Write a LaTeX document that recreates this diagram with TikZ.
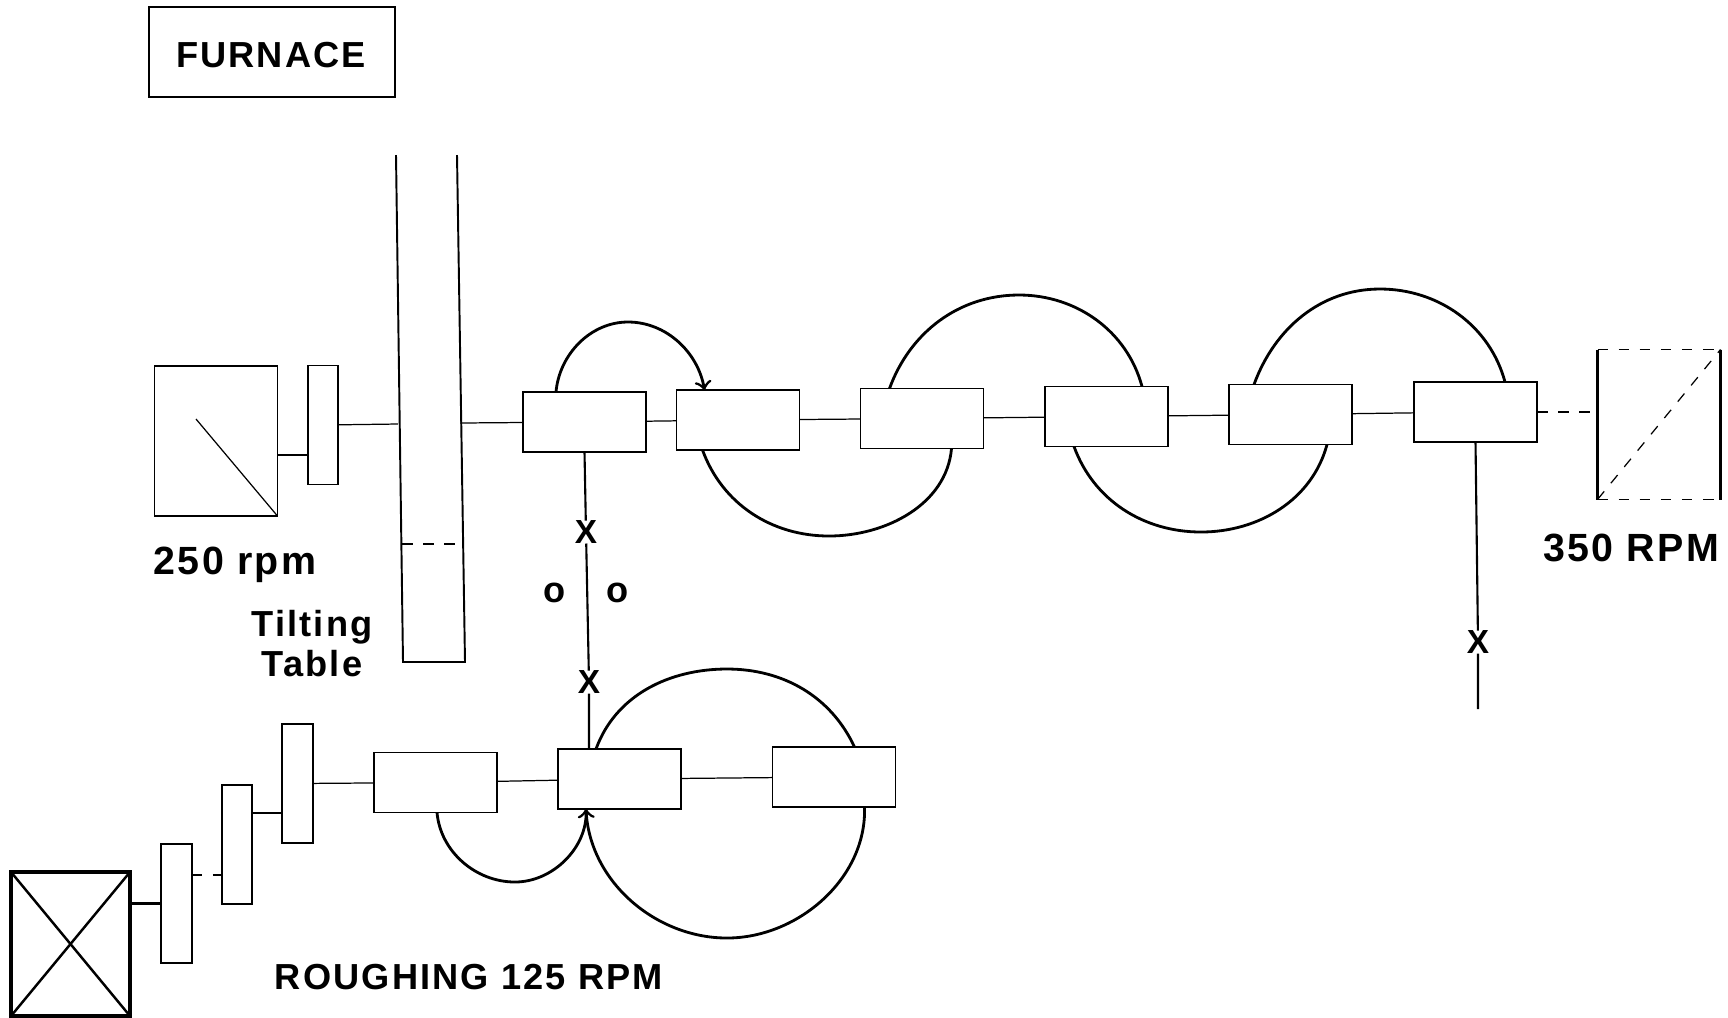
\documentclass[tikz,border=0pt]{standalone}
\usepackage{fontspec}
\setmainfont{Liberation Sans}[LetterSpace=6]
\begin{document}
\begin{tikzpicture}[
        x=0.1mm, y=-0.1mm,
        every node/.style={inner sep=0pt, outer sep=0pt},
        roll/.style={draw, line width=0.45pt, minimum width=12.3mm, minimum height=6mm},
        gear/.style={draw, line width=0.45pt, minimum width=3.05mm, minimum height=11.9mm},
        motor/.style={draw, line width=0.55pt, minimum width=12.3mm, minimum height=15mm},
        shaft/.style={line width=0.35pt},
        strand/.style={line width=0.8pt, looseness=0.96},
        guide/.style={line width=0.6pt},
        tag/.style={font=\bfseries\fontsize{10.3}{11.4}\selectfont, align=center},
        bigtag/.style={font=\bfseries\fontsize{11.2}{12}\selectfont},
        cross/.style={font=\bfseries\fontsize{9.5}{10}\selectfont}
    ]
        \useasboundingbox (0,0) rectangle (1728,1017);

        % Forno
        \node[draw, line width=0.45pt, minimum width=24.6mm, minimum height=9mm] (furnace) at (272,52) {};
        \node[tag] (furnaceTag) at (271,55) {FURNACE};

        % Mesa basculante
        \draw[line width=0.55pt] (396,155) -- (403,662) -- (465,662) -- (457,155);
        \draw[shaft, dashed] (402,544) -- (464,544);
        \coordinate (tableW) at (398,424);
        \coordinate (tableE) at (460,423);
        \node[tag] (tableTag) at (312,644) {Tilting\\Table};

        % Trem principal
        \node[motor] (motorA) at (216,441) {};
        \draw[shaft] (196,419) -- (motorA.south east);
        \node[gear] (gearA) at (323,425) {};
        \node[roll] (rollA) at (584.5,422) {};
        \node[roll] (rollB) at (738,420) {};
        \node[roll] (rollC) at (922,418.5) {};
        \node[roll] (rollD) at (1106.5,416.5) {};
        \node[roll] (rollE) at (1290.5,414.5) {};
        \node[roll] (rollF) at (1475.5,412) {};
        \node[motor, draw=none] (motorB) at (1659,424.5) {};
        \draw[line width=0.6pt] (motorB.north west) -- (motorB.south west);
        \draw[line width=0.6pt] (motorB.north east) -- (motorB.south east);
        \draw[shaft, dashed] (motorB.north west) -- (motorB.north east);
        \draw[shaft, dashed] (motorB.south west) -- (motorB.south east);
        \draw[shaft, dashed] (motorB.south west) -- (motorB.north east);
        \node[bigtag] (rpmA) at (235,565) {250 rpm};
        \node[bigtag] (rpmB) at (1631,548) {350 RPM};

        % Eixos do trem principal
        \coordinate (shaftA) at (300,455);
        \draw[shaft] (shaftA -| motorA.east) -- (shaftA -| gearA.west);
        \draw[shaft] (gearA) -- (tableW);
        \draw[shaft] (tableE) -- (rollA);
        \draw[shaft] (rollA) -- (rollB);
        \draw[shaft] (rollB) -- (rollC);
        \draw[shaft] (rollC) -- (rollD);
        \draw[shaft] (rollD) -- (rollE);
        \draw[shaft] (rollE) -- (rollF);
        \draw[shaft, dashed] (rollF) -- (rollF -| motorB.west);

        % Lacos do trem principal
        \coordinate (peakAB) at (628,322);
        \coordinate (peakBC) at (829,536);
        \coordinate (peakCD) at (1019,295);
        \coordinate (peakDE) at (1201,532);
        \coordinate (peakEF) at (1380,289);
        \draw[strand, ->] ([xshift=3.3mm]rollA.north west) to[out=85, in=180] (peakAB)
            to[out=0, in=100] ([xshift=2.8mm]rollB.north west);
        \draw[strand] ([xshift=2.6mm]rollB.south west) to[out=-70, in=180] (peakBC)
            to[out=0, in=-95] ([xshift=9.1mm]rollC.south west);
        \draw[strand] ([xshift=2.9mm]rollC.north west) to[out=70, in=180] (peakCD)
            to[out=0, in=105] ([xshift=9.7mm]rollD.north west);
        \draw[strand] ([xshift=2.9mm]rollD.south west) to[out=-70, in=180] (peakDE)
            to[out=0, in=-105] ([xshift=9.8mm]rollE.south west);
        \draw[strand] ([xshift=2.5mm]rollE.north west) to[out=70, in=180] (peakEF)
            to[out=0, in=105] ([xshift=9.1mm]rollF.north west);

        % Trem de desbaste
        \node[motor, line width=1.1pt, minimum width=11.9mm, minimum height=14.4mm] (motorC) at (70.5,944) {};
        \draw[line width=0.7pt] (motorC.north west) -- (motorC.south east);
        \draw[line width=0.7pt] (motorC.south west) -- (motorC.north east);
        \node[gear] (gearB) at (176.5,903.5) {};
        \node[gear] (gearC) at (237,844.5) {};
        \node[gear] (gearD) at (297.5,783.5) {};
        \node[roll] (rollG) at (435.5,782.5) {};
        \node[roll] (rollH) at (619.5,779) {};
        \node[roll] (rollI) at (834,777) {};
        \node[tag] (roughTag) at (469,977) {ROUGHING 125 RPM};

        % Eixos do desbaste
        \coordinate (shaftB) at (200,875);
        \coordinate (shaftC) at (260,813);
        \draw[line width=1pt] (gearB -| motorC.east) -- (gearB);
        \draw[shaft, dashed] (shaftB -| gearB.east) -- (shaftB -| gearC.west);
        \draw[shaft] (shaftC -| gearC.east) -- (shaftC -| gearD.west);
        \draw[shaft] (gearD) -- (rollG);
        \draw[shaft] (rollG) -- (rollH);
        \draw[shaft] (rollH) -- (rollI);

        % Lacos do desbaste
        \coordinate (peakGH) at (515,882);
        \coordinate (peakHI) at (727,669);
        \coordinate (peakIH) at (727,938);
        \draw[strand, ->] ([xshift=6.3mm]rollG.south west) to[out=-85, in=180] (peakGH)
            to[out=0, in=-88] ([xshift=2.8mm]rollH.south west);
        \draw[strand] ([xshift=3.8mm]rollH.north west) to[out=70, in=180] (peakHI)
            to[out=0, in=115] ([xshift=8.2mm]rollI.north west);
        \draw[strand] ([xshift=2.8mm]rollH.south west) to[out=-88, in=180] (peakIH)
            to[out=0, in=-88] ([xshift=9.2mm]rollI.south west);

        % Guias com marcas
        \node[cross] (crossA) at (586,532) {X};
        \node[cross] (crossB) at (589,682) {X};
        \node[cross] (crossC) at (1478,642) {X};
        \node[tag] (dotA) at (555,593) {o};
        \node[tag] (dotB) at (618,593) {o};
        \coordinate (guideEnd) at (1478,709);
        \draw[guide] (rollA.south) -- (crossA) -- (crossB) -- (crossB |- rollH.north);
        \draw[guide] (rollF.south) -- (crossC) -- (guideEnd);

    \end{tikzpicture}
\end{document}
